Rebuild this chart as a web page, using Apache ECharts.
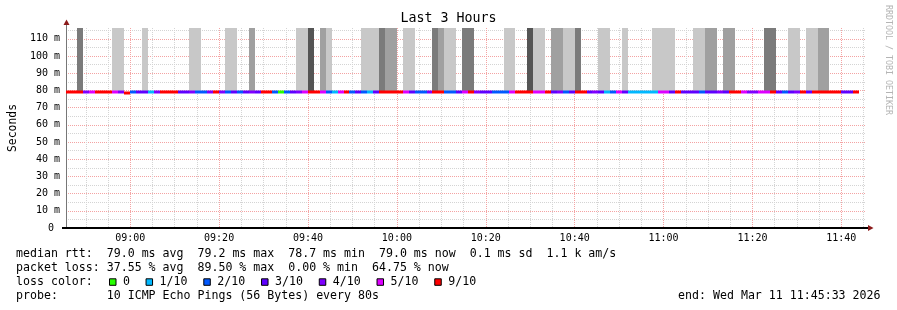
<!DOCTYPE html>
<html>
<head>
<meta charset="utf-8">
<script src="https://cdn.jsdelivr.net/npm/echarts@6/dist/echarts.min.js"></script>
<style>
html,body{margin:0;padding:0;background:#fff;}
#c{width:897px;height:310px;}
</style>
</head>
<body>
<div id="c"></div>
<script>
// ---------------- data ----------------
// time in seconds of day; one probe step = 80 s
const stepStart = 31520;          // 08:45:20
const stepSeconds = 80;
const axisStart = 31533;          // 08:45:33
const axisEnd = 42333;            // 11:45:33
const yMaxMs = 116.3;

// lost pings (out of 10) per step
const lossPerStep = [
  9,9,9,4,5,9,9,9,5,4,
  9,2,3,3,1,4,9,9,9,3,
  3,4,2,2,4,9,4,2,3,2,
  3,4,3,9,9,2,0,2,3,4,
  5,9,9,5,2,1,5,9,2,3,
  2,1,3,9,9,9,9,5,3,2,
  2,4,9,9,2,2,3,5,9,4,
  3,3,2,2,2,5,9,9,9,5,
  5,9,3,4,2,3,9,9,3,4,
  3,1,2,5,3,1,1,1,1,1,
  5,5,3,9,3,3,3,2,3,3,
  4,3,9,9,5,4,4,5,5,9,
  3,2,3,4,9,3,9,9,9,9,
  9,3,3,9
];

// median rtt (ms) per step
const medianPerStep = [
  79.0,79.0,79.0,79.0,78.9,79.0,79.0,79.0,79.0,79.0,
  78.7,79.0,79.0,79.0,79.2,79.0,79.0,79.0,79.0,79.0,
  79.0,79.0,79.0,79.0,79.0,79.0,79.0,79.0,79.0,79.0,
  79.0,79.0,79.0,79.0,79.0,79.0,79.1,79.0,79.0,79.0,
  79.0,79.0,79.0,79.0,79.0,79.2,79.0,79.0,79.0,79.0,
  79.0,79.1,79.0,79.0,79.0,79.0,79.0,79.0,79.0,79.0,
  79.0,79.0,79.0,79.0,79.0,79.0,79.0,79.0,79.0,79.0,
  79.0,79.0,79.0,79.0,79.0,79.0,79.0,79.0,79.0,79.0,
  79.0,79.0,79.0,79.0,79.0,79.0,79.0,79.0,79.0,79.0,
  79.0,79.1,79.0,79.0,79.0,79.1,79.1,79.1,79.1,79.1,
  79.0,79.0,79.0,79.0,79.0,79.0,79.0,79.0,79.0,79.0,
  79.0,79.0,79.0,79.0,79.0,79.0,79.0,79.0,79.0,79.0,
  79.0,79.0,79.0,79.0,79.0,79.0,79.0,79.0,79.0,79.0,
  79.0,79.0,79.0,79.0
];

// smoke (ping spread) shade per step: 0 none .. 4 darkest
const smokePerStep = [
  0,0,3,0,0,0,0,0,1,1,
  0,0,0,1,0,0,0,0,0,0,
  0,1,1,0,0,0,0,1,1,0,
  0,2,0,0,0,0,0,0,0,1,
  1,4,0,2,1,0,0,0,0,0,
  1,1,1,3,2,2,0,1,1,0,
  0,0,3,2,1,1,0,3,3,0,
  0,0,0,0,1,1,0,0,4,1,
  1,0,2,2,1,1,3,0,0,0,
  1,1,0,0,1,0,0,0,0,1,
  1,1,1,0,0,0,1,1,2,2,
  0,2,2,0,0,0,0,0,3,3,
  0,0,1,1,0,1,1,2,2,0,
  0,0,0,0
];
const smokeLowMs = 79.6;
const smokeHighMs = 140;

const lossThresholds = [0,1,2,3,4,5,9];
const lossLabels = ['0','1/10','2/10','3/10','4/10','5/10','9/10'];
const lossColors = ['#26ff00','#00b8ff','#0059ff','#5e00ff','#7e00ff','#dd00ff','#ff0000'];
const smokeColors = [null,'#c8c8c8','#a0a0a0','#7b7b7b','#555555'];

const statsLine1 = 'median rtt:  79.0 ms avg  79.2 ms max  78.7 ms min  79.0 ms now  0.1 ms sd  1.1 k am/s';
const statsLine2 = 'packet loss: 37.55 % avg  89.50 % max  0.00 % min  64.75 % now';
const probeLine = 'probe:       10 ICMP Echo Pings (56 Bytes) every 80s';
const endLine = 'end: Wed Mar 11 11:45:33 2026';

// ---------------- layout ----------------
const FONT = '"DejaVu Sans Mono", "Liberation Mono", monospace';
const PL = 66, PR = 866, PT = 28, PB = 228;
const W = 897, H = 310;
const labelAxisStart = 31800;    // 08:50, multiple of 300 s
const pxPerSec = (PR - PL) / (axisEnd - axisStart);
const grid1Left = PL + (labelAxisStart - axisStart) * pxPerSec;

function lossIndex(n) {
  let k = 0;
  for (let j = 0; j < lossThresholds.length; j++) if (n >= lossThresholds[j]) k = j;
  return k;
}
function hhmm(v) {
  const h = Math.floor(v / 3600), m = Math.floor((v % 3600) / 60);
  return (h < 10 ? '0' : '') + h + ':' + (m < 10 ? '0' : '') + m;
}

const smokeData = smokePerStep.map((s, i) => [stepStart + i * stepSeconds, stepStart + (i + 1) * stepSeconds, smokeLowMs, smokeHighMs, s]);
const medianData = medianPerStep.map((v, i) => [stepStart + i * stepSeconds, stepStart + (i + 1) * stepSeconds, v, lossPerStep[i]]);

function renderSmoke(params, api) {
  const shade = api.value(4);
  if (!shade) return null;
  const t0 = Math.max(api.value(0), axisStart), t1 = Math.min(api.value(1), axisEnd);
  const a = api.coord([t0, Math.min(api.value(3), yMaxMs)]);
  const b = api.coord([t1, api.value(2)]);
  const x0 = Math.round(a[0]), x1 = Math.round(b[0]);
  return { type: 'rect', shape: { x: x0, y: a[1], width: x1 - x0, height: b[1] - a[1] },
           style: { fill: smokeColors[shade] } };
}
function renderMedian(params, api) {
  const t0 = Math.max(api.value(0), axisStart), t1 = Math.min(api.value(1), axisEnd);
  const v = api.value(2);
  const a = api.coord([t0, v]);
  const b = api.coord([t1, v]);
  const x0 = Math.round(a[0]), x1 = Math.round(b[0]);
  return { type: 'rect', shape: { x: x0, y: Math.round(a[1]) - 1.5, width: x1 - x0, height: 3 },
           style: { fill: lossColors[lossIndex(api.value(3))] } };
}

// legend graphics
const legendY = 282.3;
const legendEls = [];
let lx = 109;
lossLabels.forEach((lab, k) => {
  legendEls.push({ type: 'rect', shape: { x: lx + 0.5, y: legendY - 3.5, width: 6.5, height: 6.5 },
    style: { fill: lossColors[k], stroke: '#000', lineWidth: 1 } });
  legendEls.push({ type: 'text', x: lx + 14, y: legendY,
    style: { text: lab, fill: '#000', fontSize: 11.6, fontFamily: FONT, verticalAlign: 'middle', textVerticalAlign: 'middle' } });
  lx = lx + 14 + lab.length * 7.06 + 15.5;
});

function txt(x, y, s, extra) {
  return Object.assign({ type: 'text', x: x, y: y,
    style: Object.assign({ text: s, fill: '#000', fontSize: 11.6, fontFamily: FONT, verticalAlign: 'middle', textVerticalAlign: 'middle' }, extra || {}) });
}

const option = {
  animation: false,
  backgroundColor: '#fff',
  title: {
    text: 'Last 3 Hours', left: 'center', top: 12, padding: 0,
    textStyle: { fontFamily: FONT, fontSize: 13.3, fontWeight: 'normal', color: '#000' }
  },
  grid: [
    { left: PL, right: W - PR, top: PT, bottom: H - PB, containLabel: false },
    { left: grid1Left, right: W - PR, top: PT, bottom: H - PB, containLabel: false }
  ],
  xAxis: [
    { gridIndex: 0, type: 'value', min: axisStart, max: axisEnd,
      axisLine: { show: true, lineStyle: { color: '#000', width: 2 } },
      axisTick: { show: false }, axisLabel: { show: false }, splitLine: { show: false } },
    { gridIndex: 1, type: 'value', min: labelAxisStart, max: axisEnd, interval: 300,
      axisLine: { show: false }, axisTick: { show: false },
      axisLabel: { show: true, margin: 5, color: '#000', fontFamily: FONT, fontSize: 10,
        formatter: v => (v % 1200 === 0 ? hhmm(v) : '') , showMaxLabel: false },
      splitLine: { show: true, showMaxLine: false,
        lineStyle: { color: ['#d4d4d4', '#d4d4d4', '#f4a3a3', '#d4d4d4'], width: 1, type: [1, 1] } } }
  ],
  yAxis: [
    { gridIndex: 0, type: 'value', min: 0, max: yMaxMs, interval: 5,
      name: 'Seconds', nameLocation: 'middle', nameRotate: 90, nameGap: 47,
      nameTextStyle: { fontFamily: FONT, fontSize: 11.4, color: '#000' },
      axisLine: { show: true, lineStyle: { color: '#777', width: 1 } },
      axisTick: { show: false },
      axisLabel: { show: true, margin: 6, color: '#000', fontFamily: FONT, fontSize: 10,
        formatter: v => (v === 0 ? '0 ' : (Math.abs(v % 10) < 1e-9 ? v + ' m' : '')), showMaxLabel: false },
      splitLine: { show: true, showMinLine: true, showMaxLine: false,
        lineStyle: { color: ['#f4a3a3', '#d4d4d4'], width: 1, type: [1, 1] } } },
    { gridIndex: 1, type: 'value', min: 0, max: yMaxMs, show: false }
  ],
  series: [
    { type: 'custom', name: 'smoke', xAxisIndex: 0, yAxisIndex: 0, renderItem: renderSmoke,
      data: smokeData, clip: true, silent: true, z: 2 },
    { type: 'custom', name: 'median rtt', xAxisIndex: 0, yAxisIndex: 0, renderItem: renderMedian,
      data: medianData, clip: true, silent: true, z: 3 }
  ],
  graphic: [
    // axis extensions and arrows
    { type: 'line', shape: { x1: PL + 0.5, y1: PT - 3, x2: PL + 0.5, y2: PT }, style: { stroke: '#777', lineWidth: 1 } },
    { type: 'polygon', shape: { points: [[PL + 0.5, PT - 8.5], [PL - 2.5, PT - 3], [PL + 3.5, PT - 3]] }, style: { fill: '#8b1a1a' }, z: 10 },
    { type: 'line', shape: { x1: PL - 4, y1: PB, x2: PL, y2: PB }, style: { stroke: '#000', lineWidth: 2 } },
    { type: 'line', shape: { x1: PR, y1: PB, x2: PR + 2, y2: PB }, style: { stroke: '#000', lineWidth: 2 } },
    { type: 'polygon', shape: { points: [[PR + 7.5, PB], [PR + 2, PB - 3], [PR + 2, PB + 3]] }, style: { fill: '#8b1a1a' }, z: 10 },
    // watermark
    { type: 'text', x: 888, y: 60, rotation: -Math.PI / 2,
      style: { text: 'RRDTOOL / TOBI OETIKER', fill: '#b4b4b4', fontSize: 8.3, fontFamily: FONT,
        align: 'center', textAlign: 'center', verticalAlign: 'middle', textVerticalAlign: 'middle' } },
    // legend / stats
    txt(16, 254.3, statsLine1),
    txt(16, 268.3, statsLine2),
    txt(16, 282.3, 'loss color:'),
    txt(16, 296.2, probeLine),
    txt(880.5, 296.2, endLine, { align: 'right', textAlign: 'right' })
  ].concat(legendEls)
};

const chart = echarts.init(document.getElementById('c'), null, { renderer: 'canvas' });
chart.setOption(option);
</script>
</body>
</html>
